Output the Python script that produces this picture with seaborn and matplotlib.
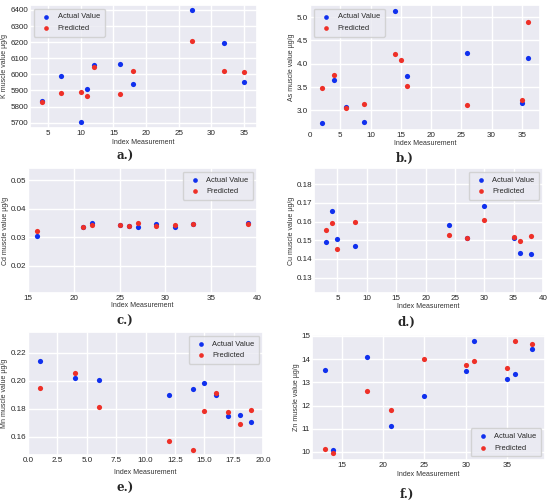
import numpy as np
import matplotlib
matplotlib.use("Agg")
import matplotlib.pyplot as plt
import seaborn as sns

# Data
k_x_act = [4, 7, 10, 11, 12, 16, 18, 27, 32, 35]
k_act = [5835, 5988, 5702, 5910, 6059, 6063, 5942, 6398, 6198, 5955]
k_x_pred = [4, 7, 10, 11, 12, 16, 18, 27, 32, 35]
k_pred = [5829, 5884, 5892, 5866, 6045, 5876, 6018, 6208, 6018, 6014]
k_yticks = [5700, 5800, 5900, 6000, 6100, 6200, 6300, 6400]

as_x_act = [2, 4, 6, 9, 14, 16, 26, 35, 36]
as_act = [2.72, 3.66, 3.07, 2.75, 5.13, 3.73, 4.23, 3.15, 4.13]
as_x_pred = [2, 4, 6, 9, 14, 15, 16, 26, 35, 36]
as_pred = [3.49, 3.75, 3.05, 3.14, 4.22, 4.08, 3.52, 3.12, 3.23, 4.90]

cd_x_act = [16, 21, 22, 25, 26, 27, 29, 31, 33, 39]
cd_act = [0.0304, 0.0335, 0.0350, 0.0342, 0.0340, 0.0337, 0.0345, 0.0336, 0.0347, 0.0351]
cd_x_pred = [16, 21, 22, 25, 26, 27, 29, 31, 33, 39]
cd_pred = [0.0320, 0.0335, 0.0342, 0.0342, 0.0338, 0.0349, 0.0338, 0.0344, 0.0347, 0.0348]
cd_yticks = [0.02, 0.03, 0.04, 0.05]

cu_x_act = [3, 4, 5, 8, 24, 27, 30, 35, 36, 38]
cu_act = [0.1493, 0.1655, 0.1507, 0.1470, 0.1582, 0.1512, 0.1685, 0.1510, 0.1432, 0.1428]
cu_x_pred = [3, 4, 5, 8, 24, 27, 30, 35, 36, 38]
cu_pred = [0.1553, 0.1590, 0.1455, 0.1598, 0.1528, 0.1512, 0.1610, 0.1518, 0.1497, 0.1524]

mn_x_act = [1, 4, 6, 12, 14, 15, 16, 17, 18, 19]
mn_act = [0.2143, 0.2022, 0.2010, 0.1900, 0.1945, 0.1988, 0.1898, 0.1752, 0.1758, 0.1705]
mn_x_pred = [1, 4, 6, 12, 14, 15, 16, 17, 18, 19]
mn_pred = [0.1947, 0.2058, 0.1813, 0.1570, 0.1505, 0.1785, 0.1913, 0.1775, 0.1695, 0.1795]
mn_yticks = [0.16, 0.18, 0.20, 0.22]

zn_x_act = [13, 14, 18, 21, 25, 30, 31, 35, 36, 38]
zn_act = [13.52, 10.10, 14.08, 11.10, 12.43, 13.48, 14.80, 13.13, 13.35, 14.45]
zn_x_pred = [13, 14, 18, 21, 25, 30, 31, 35, 36, 38]
zn_pred = [10.13, 9.97, 12.62, 11.82, 14.00, 13.75, 13.90, 13.63, 14.76, 14.67]

sns.set_theme(style="darkgrid")
plt.rcParams["font.family"] = ["Liberation Sans", "DejaVu Sans"]

W, H = 550, 503
fig = plt.figure(figsize=(W / 100, H / 100), dpi=100)

blue = "#1030ee"
red = "#ee3028"

# box (left, right, top, bottom) px, data, ylabel, limits, ticks, legend loc,
# tag text + position, ylabel right edge x px, xlabel top y px
panels = [
    ((30, 257, 5, 128), k_x_act, k_act, k_x_pred, k_pred, "K muscle value µg/g",
     (2.2, 37.0), (5667, 6431), k_yticks, "upper left", "a.)", (125, 156), 8, 139),
    ((310, 540, 5, 130), as_x_act, as_act, as_x_pred, as_pred, "As muscle value µg/g",
     (0, 38), (2.58, 5.26), None, "upper left", "b.)", (405, 158), 295, 140),
    ((28, 257, 168, 293), cd_x_act, cd_act, cd_x_pred, cd_pred, "Cd muscle value µg/g",
     (15, 40), (0.0103, 0.0544), cd_yticks, "upper right", "c.)", (125, 321), 9, 302),
    ((314, 543, 168, 293), cu_x_act, cu_act, cu_x_pred, cu_pred, "Cu muscle value µg/g",
     (1.0, 40), (0.1218, 0.1886), None, "upper right", "d.)", (406, 322), 295, 303),
    ((28, 263, 332, 455), mn_x_act, mn_act, mn_x_pred, mn_pred, "Mn muscle value µg/g",
     (0, 20), (0.147, 0.235), mn_yticks, "upper right", "e.)", (125, 488), 8, 469),
    ((312, 545, 335, 460), zn_x_act, zn_act, zn_x_pred, zn_pred, "Zn muscle value µg/g",
     (11.4, 39.6), (9.65, 15.04), None, "lower right", "f.)", (407, 494), 300, 471),
]

for (l, r, t, b), xa, ya, xp, yp, ylab, xlim, ylim, yticks, loc, tag, (tx, ty), ylx, xly in panels:
    ax = fig.add_axes([l / W, 1 - b / H, (r - l) / W, (b - t) / H])
    sns.scatterplot(x=xa, y=ya, color=blue, s=14, linewidth=0, label="Actual Value", ax=ax)
    sns.scatterplot(x=xp, y=yp, color=red, s=14, linewidth=0, label="Predicted", ax=ax)
    ax.set_xlim(*xlim)
    ax.set_ylim(*ylim)
    if yticks is not None:
        ax.set_yticks(yticks)
    ax.tick_params(labelsize=5.8, pad=1.5, length=0)
    ax.set_xlabel("Index Measurement", fontsize=5, color="#333333")
    ax.set_ylabel(ylab, fontsize=5, color="#333333")
    ax.xaxis.set_label_coords(0.5, -(xly - b) / (b - t))
    ax.yaxis.set_label_coords(-(l - ylx) / (r - l), 0.5)
    ax.legend(loc=loc, fontsize=5.4, markerscale=0.9, handletextpad=0.6,
              borderpad=0.6, labelspacing=0.6)
    fig.text(tx / W, 1 - ty / H, tag, ha="center", va="center", fontsize=8.5,
             fontweight="bold", family="DejaVu Serif")

fig.savefig("out.png", dpi=100)
